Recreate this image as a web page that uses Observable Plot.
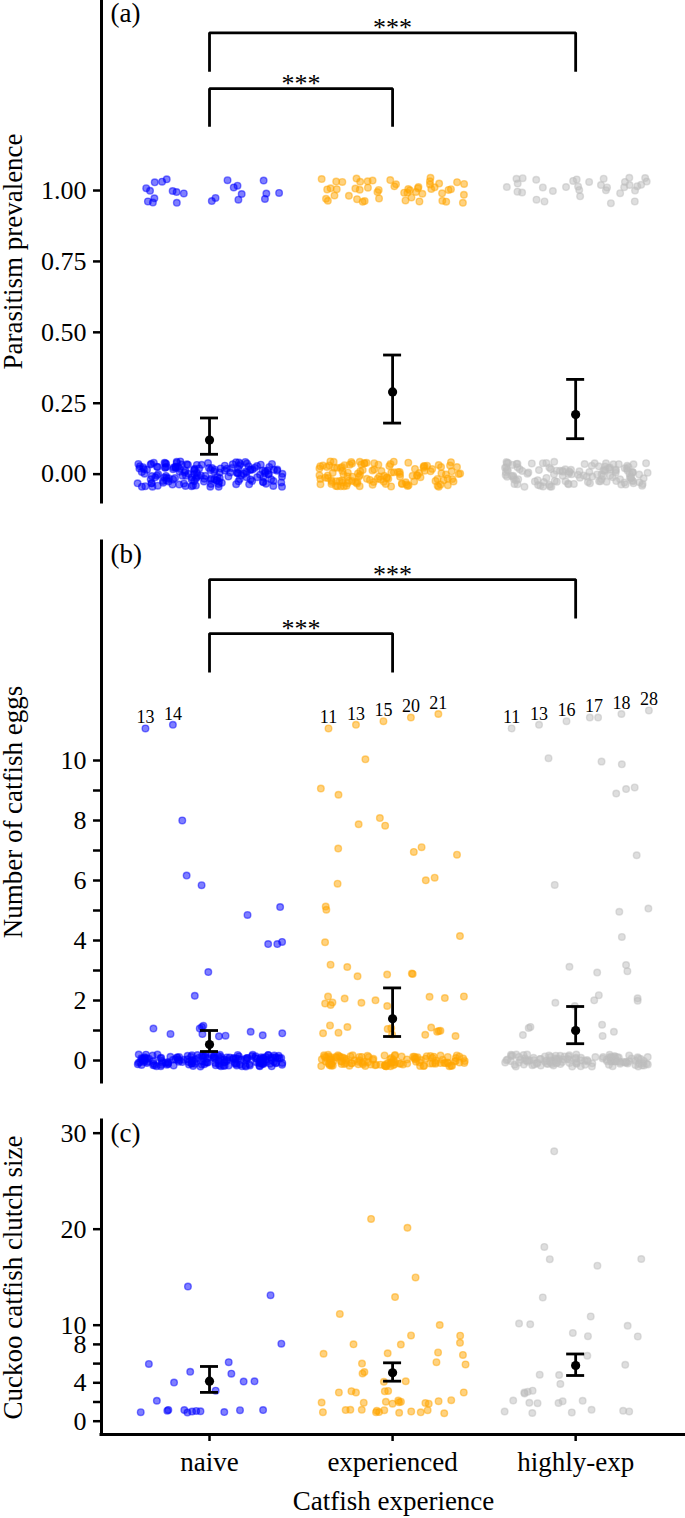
<!DOCTYPE html>
<html>
<head>
<meta charset="utf-8">
<script src="https://cdn.jsdelivr.net/npm/d3@7"></script>
<script src="https://cdn.jsdelivr.net/npm/@observablehq/plot@0.6"></script>
<style>
html, body { margin: 0; padding: 0; background: #fff; }
#chart { width: 685px; }
#chart svg { display: block; }
#chart svg, #chart svg text { font-family: "Liberation Serif", "Times New Roman", "DejaVu Serif", serif !important; }
</style>
</head>
<body>
<div id="chart"></div>
<script>
// ---------- data ----------
const groups = ["naive", "experienced", "highly-exp"];
const groupColors = ["#0000ff", "#ffa500", "#bebebe"];

// cuckoo catfish clutch size of each parasitized nest
const clutchNaive = [14, 13, 8, 6, 6, 5, 5, 4, 4, 4, 3, 2, 1, 1, 1, 1, 1, 1, 1, 1, 1, 1, 1];
const clutchExperienced = [21, 20, 15, 13, 11, 10, 9, 9, 8, 8, 8, 7, 7, 7, 7, 6, 6, 6, 5, 5, 4, 4,
  3, 3, 3, 3, 3, 3, 2, 2, 2, 2, 2, 2, 2, 2, 2, 2, 2, 1, 1, 1, 1, 1, 1, 1, 1, 1, 1, 1, 1, 1];
const clutchHighlyExp = [28, 18, 17, 17, 16, 13, 11, 10, 10, 10, 9, 9, 9, 7, 6, 5, 5, 4,
  3, 3, 3, 3, 2, 2, 2, 2, 2, 2, 1, 1, 1, 1, 1, 1];
// number of non-parasitized nests per group
const unparasitizedNests = [165, 125, 125];

// model means and 95% CI
const prevalenceMean = [0.12, 0.29, 0.21];
const prevalenceLow = [0.07, 0.18, 0.125];
const prevalenceHigh = [0.198, 0.42, 0.334];
const eggsMean = [0.53, 1.39, 1.0];
const eggsLow = [0.3, 0.8, 0.56];
const eggsHigh = [1.0, 2.42, 1.8];
const clutchMean = [4.17, 5.04, 5.8];
const clutchLow = [3.0, 4.17, 4.76];
const clutchHigh = [5.7, 6.08, 7.0];

// axis ticks
const prevalenceTicks = [0, 0.25, 0.5, 0.75, 1];
const eggsTicks = [0, 1, 2, 3, 4, 5, 6, 7, 8, 9, 10];
const eggsTickLabels = [0, 2, 4, 6, 8, 10];
const clutchTicks = [0, 2, 4, 6, 8, 10, 20, 30];
const clutchTickLabels = [0, 4, 8, 10, 20, 30];

// significance brackets (group index pairs, bracket level, tip end)
const comparisons = [{from: 0, to: 2, label: "***"}, {from: 0, to: 1, label: "***"}];
const bracketLevelA = [1.556, 1.359];
const bracketTipA = [1.419, 1.225];
const bracketLevelB = [16.03, 14.23];
const bracketTipB = [14.73, 12.93];
const eggsCap = 10;

// ---------- helpers ----------
const FONT = "Liberation Serif, Times New Roman, DejaVu Serif, serif";
const xDomain = [-0.59, 2.6];
const clutchByGroup = [clutchNaive, clutchExperienced, clutchHighlyExp];

function jittered(values, g, seed, w, h) {
  const rnd = d3.randomLcg(seed);
  return values.map(v => ({g, v, x: g + (2 * rnd() - 1) * w, y: v + (2 * rnd() - 1) * h}));
}
function dotsByGroup(points) {
  return groups.map((_, i) => Plot.dot(points.filter(d => d.g === i), {
    x: "x", y: "y", r: 3.3, fill: groupColors[i], stroke: groupColors[i],
    fillOpacity: 0.5, strokeOpacity: 0.5, strokeWidth: 1.4
  }));
}
function summaryMarks(mean, lo, hi) {
  const s = groups.map((_, i) => ({i, mean: mean[i], lo: lo[i], hi: hi[i]}));
  return [
    Plot.ruleX(s, {x: "i", y1: "lo", y2: "hi", stroke: "black", strokeWidth: 2.8}),
    Plot.ruleY(s, {x1: "i", x2: "i", y: "lo", insetLeft: -9, insetRight: -9, stroke: "black", strokeWidth: 2.8}),
    Plot.ruleY(s, {x1: "i", x2: "i", y: "hi", insetLeft: -9, insetRight: -9, stroke: "black", strokeWidth: 2.8}),
    Plot.dot(s, {x: "i", y: "mean", r: 4.6, fill: "black", stroke: null})
  ];
}
function bracketMarks(levels, tips) {
  const lines = comparisons.flatMap((c, k) => [
    {k, x: c.from, y: tips[k]}, {k, x: c.from, y: levels[k]},
    {k, x: c.to, y: levels[k]}, {k, x: c.to, y: tips[k]}
  ]);
  const labels = comparisons.map((c, k) => ({x: (c.from + c.to) / 2, y: levels[k], label: c.label}));
  return [
    Plot.line(lines, {x: "x", y: "y", z: "k", stroke: "black", strokeWidth: 2.8,
      strokeLinejoin: "miter", strokeLinecap: "butt"}),
    Plot.text(labels, {x: "x", y: "y", text: "label", dy: -5, fontSize: 26, fill: "black", fontFamily: FONT})
  ];
}
function yAxisMarks(ticks, labeled, fmt, title, panel) {
  return [
    Plot.axisY({ticks, tickFormat: d => labeled.includes(d) ? fmt(d) : "",
      tickSize: 8, tickPadding: 7, fontSize: 26, strokeWidth: 2.5, label: null, fontFamily: FONT}),
    Plot.ruleX([xDomain[0]], {stroke: "black", strokeWidth: 3, strokeLinecap: "square"}),
    Plot.text([title], {text: d => d, frameAnchor: "left", rotate: -90, textAnchor: "middle",
      dx: -88, fontSize: 27, fill: "black", fontFamily: FONT}),
    Plot.text([panel], {text: d => d, frameAnchor: "top-left", textAnchor: "start",
      lineAnchor: "top", dx: 9, dy: 2, fontSize: 27, fill: "black", fontFamily: FONT})
  ];
}
const baseStyle = {fontFamily: FONT, background: "white", color: "black", overflow: "visible"};

// ---------- panel (a) ----------
const prevalencePoints = clutchByGroup.flatMap((c, g) => {
  const vals = c.map(() => 1).concat(d3.range(unparasitizedNests[g]).map(() => 0));
  return jittered(vals, g, 101 + g, 0.4, 0.045);
});
const panelA = Plot.plot({
  width: 685, height: 520, marginLeft: 101, marginRight: 0, marginTop: 0, marginBottom: 18,
  style: baseStyle,
  x: {domain: xDomain, axis: null},
  y: {domain: [-0.1, 1.67]},
  marks: [
    ...dotsByGroup(prevalencePoints),
    ...summaryMarks(prevalenceMean, prevalenceLow, prevalenceHigh),
    ...bracketMarks(bracketLevelA, bracketTipA),
    ...yAxisMarks(prevalenceTicks, prevalenceTicks, d3.format(".2f"), "Parasitism prevalence", "(a)")
  ]
});

// ---------- panel (b) ----------
const eggPoints = clutchByGroup.flatMap((c, g) => {
  const vals = c.filter(v => v <= eggsCap).concat(d3.range(unparasitizedNests[g]).map(() => 0));
  return jittered(vals, g, 201 + g, 0.4, 0.2);
});
// values above the cap are drawn in a row above the axis and labelled with their value
const eggOutliers = [];
const eggOutlierLabels = [];
clutchByGroup.forEach((c, g) => {
  const uniq = Array.from(new Set(c.filter(v => v > eggsCap))).sort(d3.ascending);
  const step = Math.min(0.15, 0.75 / Math.max(1, uniq.length - 1));
  uniq.forEach((v, k) => {
    const n = c.filter(u => u === v).length;
    const cx = g - 0.35 + k * step, cy = eggsCap + 1.07 + 0.12 * k;
    d3.range(n).forEach(j => eggOutliers.push({g, v, x: cx + (j - (n - 1) / 2) * 0.045, y: cy}));
    eggOutlierLabels.push({g, v, x: cx, y: cy});
  });
});
const panelB = Plot.plot({
  width: 685, height: 575, marginLeft: 101, marginRight: 0, marginTop: 21, marginBottom: 13,
  style: baseStyle,
  x: {domain: xDomain, axis: null},
  y: {domain: [-0.733, 17.3]},
  marks: [
    ...dotsByGroup(eggPoints.concat(eggOutliers)),
    Plot.text(eggOutlierLabels, {x: "x", y: "y", text: d => String(d.v), dy: -11, fontSize: 18, fill: "black", fontFamily: FONT}),
    ...summaryMarks(eggsMean, eggsLow, eggsHigh),
    ...bracketMarks(bracketLevelB, bracketTipB),
    ...yAxisMarks(eggsTicks, eggsTickLabels, d3.format("d"), "Number of catfish eggs", "(b)")
  ]
});

// ---------- panel (c) ----------
const clutchPoints = clutchByGroup.flatMap((c, g) => jittered(c, g, 301 + g, 0.4, 0.2));
const panelC = Plot.plot({
  width: 685, height: 423, marginLeft: 101, marginRight: 0, marginTop: 25, marginBottom: 84,
  style: baseStyle,
  x: {domain: xDomain},
  y: {domain: [-1.385, 31.32]},
  marks: [
    ...dotsByGroup(clutchPoints),
    ...summaryMarks(clutchMean, clutchLow, clutchHigh),
    ...yAxisMarks(clutchTicks, clutchTickLabels, d3.format("d"), "Cuckoo catfish clutch size", "(c)"),
    Plot.ruleY([-1.385], {stroke: "black", strokeWidth: 3, strokeLinecap: "square"}),
    Plot.axisX({ticks: [0, 1, 2], tickFormat: i => groups[i], tickSize: 7, tickPadding: 10,
      fontSize: 27, strokeWidth: 2.5, label: null, fontFamily: FONT}),
    Plot.text(["Catfish experience"], {text: d => d, frameAnchor: "bottom", dy: 75, fontSize: 27, fill: "black", fontFamily: FONT})
  ]
});

const root = document.getElementById("chart");
root.append(panelA, panelB, panelC);
</script>
</body>
</html>
